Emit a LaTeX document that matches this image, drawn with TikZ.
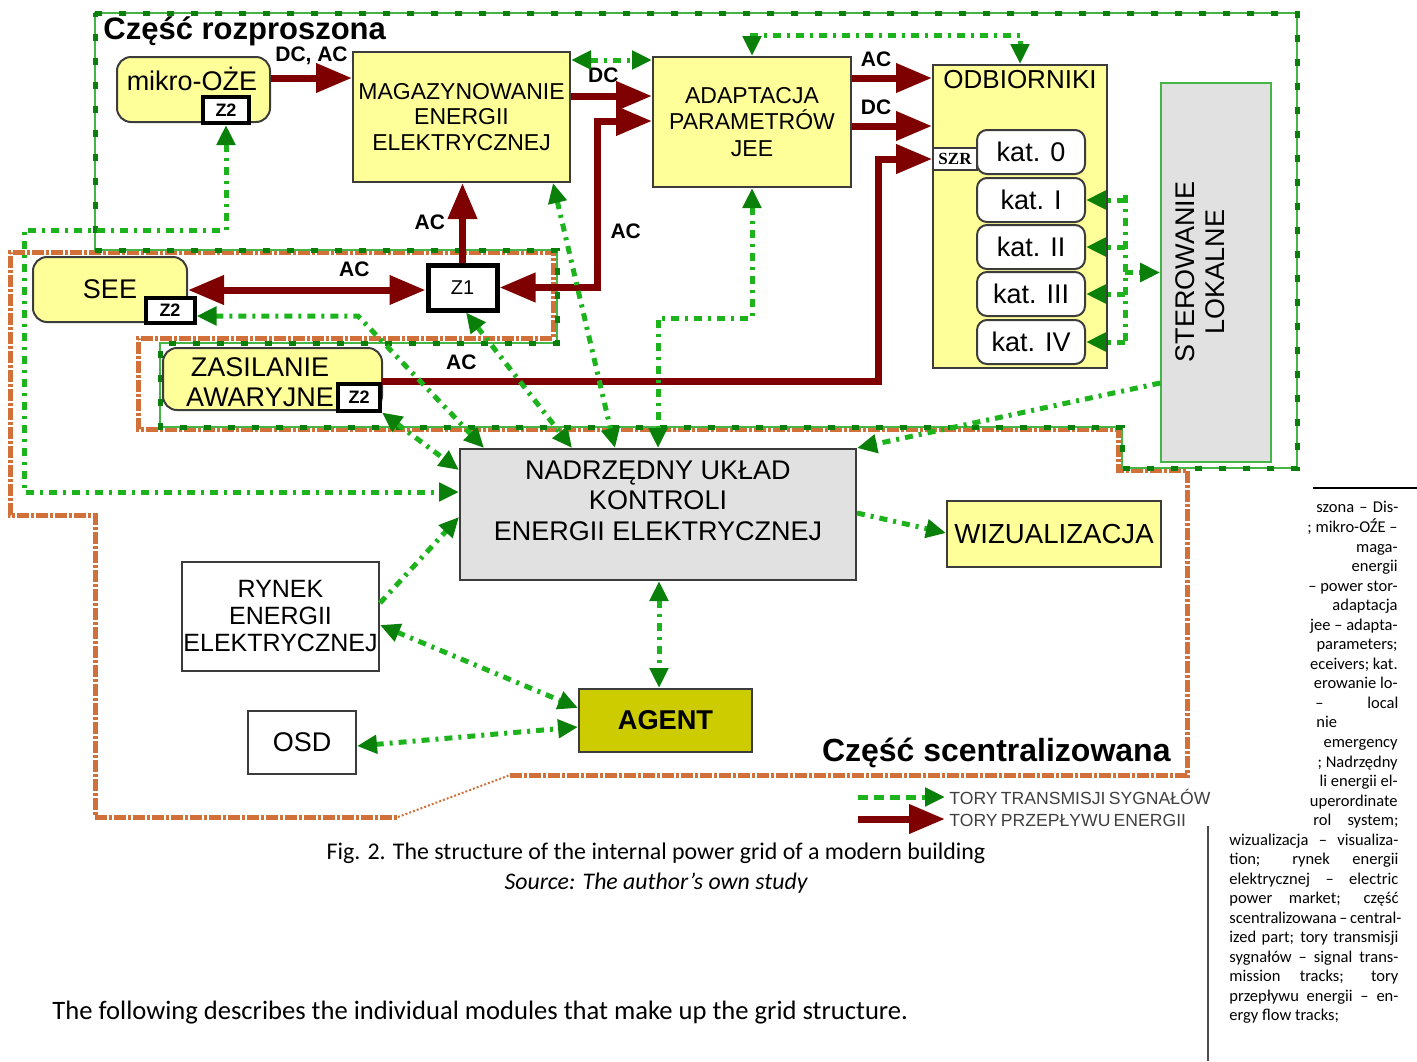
\documentclass[tikz,border=0pt]{standalone}
\usepackage{fontspec}
\setmainfont{Liberation Sans}
\newfontfamily\calibri{Carlito}
\newfontfamily\szeryf{Liberation Serif}
\usetikzlibrary{arrows.meta}

\definecolor{kZolty}{HTML}{FFFF99}
\definecolor{kSzary}{HTML}{E1E1E1}
\definecolor{kOliwka}{HTML}{CCCC00}
\definecolor{kBordo}{HTML}{7F0000}
\definecolor{kZielony}{HTML}{1DB31D}
\definecolor{kZielonyC}{HTML}{0A800A}
\definecolor{kLinia}{HTML}{45B545}
\definecolor{kPomarancz}{HTML}{D2703A}
\definecolor{kRamka}{HTML}{3C3C3C}

\begin{document}
\begin{tikzpicture}[x=0.5pt,y=-0.5pt]
	\tikzstyle{blok}=[draw=kRamka,line width=1pt,inner sep=0pt,align=center]
	\tikzstyle{zolty}=[blok,fill=kZolty]
	\tikzstyle{zaokr}=[zolty,rounded corners=7pt]
	\tikzstyle{kat}=[blok,fill=white,rounded corners=5pt,minimum width=54pt,minimum height=22pt,font=\fontsize{13.5}{15}\selectfont]
	\tikzstyle{znacznik}=[draw=black,line width=2pt,fill=white,inner sep=0pt,font=\bfseries\fontsize{9}{10}\selectfont]
	\tikzstyle{etykieta}=[font=\bfseries\fontsize{10.5}{12}\selectfont,inner sep=1pt]
	\tikzstyle{energia}=[draw=kBordo,line width=3.5pt,>={Triangle[length=18pt,width=14pt]}]
	\tikzstyle{sygnal}=[draw=kZielony,line width=2.5pt,dash pattern=on 4pt off 3pt on 1.5pt off 3pt,>={Triangle[length=10pt,width=9pt,color=kZielonyC]}]
	\tikzstyle{granicaR}=[draw=kLinia,line width=0.8pt,postaction={draw=kZielonyC,line width=2.5pt,dash pattern=on 3.5pt off 8.5pt}]
	\tikzstyle{granicaC}=[draw=kPomarancz,line width=2.5pt,dash pattern=on 6pt off 1pt on 1.5pt off 1pt]
	\tikzstyle{kolumna}=[font=\calibri\fontsize{8.25}{9.75}\selectfont,inner sep=0pt]

	\def\SzerKol{84.5pt}
	\def\KrokKol{19.5}

	\useasboundingbox (0,0) rectangle (1417,1061);

	% obszary
	\draw[granicaC] (510,775) -- (1187,775) -- (1187,470) -- (1118,470) -- (1118,429) -- (138,429) -- (138,338) -- (553,338) -- (553,252) -- (10,252) -- (10,515) -- (95,515) -- (95,817) -- (398,817);
	\draw[kPomarancz,line width=1pt,densely dotted] (398,817) -- (510,775);
	\draw[granicaR] (95,13) -- (1297,13) -- (1297,468) -- (1122,468) -- (1122,427) -- (160,427) -- (160,343) -- (557,343) -- (557,250) -- (95,250) -- cycle;

	\node[font=\bfseries\fontsize{15.5}{17}\selectfont,anchor=west,inner sep=0pt] (TR) at (103,31) {Część rozproszona};
	\node[font=\bfseries\fontsize{16}{18}\selectfont,anchor=east,inner sep=0pt] (TC) at (1171,753) {Część scentralizowana};

	% bloki
	\node[zaokr,minimum width=76.5pt,minimum height=32.5pt] (MIK) at (193.5,89.5) {};
	\node[font=\fontsize{13.5}{15}\selectfont] (MIKt) at (192,79) {mikro-OŻE};
	\node[znacznik,minimum width=23pt,minimum height=13pt] (MIKz) at (226,110) {Z2};
	\node[zolty,minimum width=108.5pt,minimum height=65pt,font=\fontsize{11.5}{12.75}\selectfont] (MAG) at (461.5,117) {MAGAZYNOWANIE\\ENERGII\\ELEKTRYCZNEJ};
	\node[zolty,minimum width=99pt,minimum height=65pt,font=\fontsize{11.5}{13.25}\selectfont] (ADA) at (752,122) {ADAPTACJA\\PARAMETRÓW\\JEE};
	\node[zolty,minimum width=87pt,minimum height=151.5pt] (ODB) at (1020,216.5) {};
	\node[font=\fontsize{13}{15}\selectfont] (ODBt) at (1020,80) {ODBIORNIKI};
	\node[kat] (K0) at (1031,152) {kat. 0};
	\node[kat] (K1) at (1031,200) {kat. I};
	\node[kat] (K2) at (1031,247) {kat. II};
	\node[kat] (K3) at (1031,294) {kat. III};
	\node[kat] (K4) at (1031,342) {kat. IV};
	\node[blok,fill=white,line width=0.8pt,minimum width=22pt,minimum height=11pt,font=\szeryf\bfseries\fontsize{8.5}{9}\selectfont] (SZR) at (955,159) {SZR};
	\node[blok,draw=kLinia,line width=0.8pt,fill=kSzary,minimum width=55pt,minimum height=189.5pt] (STE) at (1216,272.5) {};
	\node[rotate=90,align=center,font=\fontsize{13.5}{15}\selectfont] (STEt) at (1200,272) {STEROWANIE\\LOKALNE};
	\node[zaokr,minimum width=77pt,minimum height=32.5pt,font=\fontsize{13.5}{15}\selectfont] (SEE) at (110,289.5) {SEE};
	\node[znacznik,minimum width=24.5pt,minimum height=12.5pt] (SEEz) at (170,310) {Z2};
	\node[blok,draw=black,line width=2.5pt,fill=white,minimum width=34.5pt,minimum height=22.5pt,font=\fontsize{10}{11}\selectfont] (Z1) at (462.5,287.5) {Z1};
	\node[zaokr,minimum width=109.5pt,minimum height=31pt] (ZAS) at (272.5,379) {};
	\node[align=center,font=\fontsize{13.5}{15}\selectfont] (ZASt) at (260,382) {ZASILANIE\\AWARYJNE};
	\node[znacznik,minimum width=21pt,minimum height=13.5pt] (ZASz) at (359,397) {Z2};
	\node[blok,fill=kSzary,minimum width=198pt,minimum height=65.5pt] (NAD) at (658,514.5) {};
	\node[align=center,font=\fontsize{13.5}{15.25}\selectfont] (NADt) at (658,500.5) {NADRZĘDNY UKŁAD\\KONTROLI\\ENERGII ELEKTRYCZNEJ};
	\node[zolty,minimum width=107pt,minimum height=33pt,font=\fontsize{13.8}{15}\selectfont] (WIZ) at (1054,534) {WIZUALIZACJA};
	\node[blok,fill=white,minimum width=98.5pt,minimum height=54.5pt,font=\fontsize{12.5}{13.5}\selectfont] (RYN) at (280.5,616.5) {RYNEK\\ENERGII\\ELEKTRYCZNEJ};
	\node[blok,fill=white,minimum width=54pt,minimum height=31.5pt,font=\fontsize{13.5}{15}\selectfont] (OSD) at (302,742.5) {OSD};
	\node[blok,fill=kOliwka,minimum width=86.5pt,minimum height=31.5pt,font=\bfseries\fontsize{13.6}{15}\selectfont] (AGE) at (665.5,720.5) {AGENT};

	% przeplyw energii
	\draw[energia,->] (MIK.east |- 0,78) -- (MAG.west |- 0,78) node[etykieta,midway,above=4pt] {DC, AC};
	\draw[energia,->] (MAG.east |- 0,96) -- (ADA.west |- 0,96) node[etykieta,pos=0.4,above=4pt] {DC};
	\draw[energia,<->] (Z1.east) -| node[etykieta,pos=0.67,right=4pt] {AC} (597,121) -- (ADA.west |- 0,121);
	\draw[energia,->] (Z1.north) -- (MAG.south -| Z1.north) node[etykieta,midway,left=6pt] {AC};
	\draw[energia,<->] (SEE.east |- 0,290) -- (Z1.west |- 0,290) node[etykieta,pos=0.7,above=4pt] {AC};
	\draw[energia,->] (ADA.east |- 0,78) -- (ODB.west |- 0,78) node[etykieta,pos=0.3,above=3pt] {AC};
	\draw[energia,->] (ADA.east |- 0,126) -- (ODB.west |- 0,126) node[etykieta,pos=0.3,above=3pt] {DC};
	\draw[energia,->] (ZASz.east |- 0,381) -| node[etykieta,pos=0.08,above=3pt] {AC} (878,159) -- (SZR.west);

	% transmisja sygnalow
	\draw[sygnal,<->] (ADA.north) -- ++(0,-21) -| (ODB.north);
	\draw[sygnal,<->] (MAG.east |- 0,60) -- (ADA.west |- 0,60);
	\draw[sygnal,<->] (MIKz.south) |- (24,230) |- (NAD.west |- 0,492);
	\draw[sygnal,<->] (SEEz.east |- 0,316) -- (358,316) -- (NAD.north -| 484,0);
	\draw[sygnal,<->] (Z1.south -| 466,0) -- (NAD.north -| 572,0);
	\draw[sygnal,<->] (MAG.south -| 553,0) -- (NAD.north -| 615,0);
	\draw[sygnal,<->] (ADA.south) -- ++(0,130) -| (NAD.north);
	\draw[sygnal,<->] (ZASz.south east) -- (NAD.west |- 0,470);
	\draw[sygnal,->] (STE.west |- 0,383) -- (NAD.north east);
	\draw[sygnal,->] (NAD.east |- 0,513) -- (WIZ.west |- 0,533);
	\draw[sygnal,->] (RYN.east |- 0,603) -- (NAD.west |- 0,517);
	\draw[sygnal,<->] (RYN.east |- 0,625) -- (AGE.west |- 0,708);
	\draw[sygnal,<->] (OSD.east |- 0,746) -- (AGE.west |- 0,727);
	\draw[sygnal,<->] (NAD.south -| 659,0) -- (AGE.north -| 659,0);
	\coordinate (SZa) at (1125,195);
	\coordinate (SZb) at (1125,345);
	\draw[sygnal] (SZa) -- (SZb);
	\foreach \k in {K1,K2,K3,K4}
		\draw[sygnal,->] (SZa |- \k) -- (\k.east);
	\draw[sygnal,->] (SZa |- STE) -- (STE.west);

	% legenda
	\coordinate (LS) at (858,797);
	\coordinate (LE) at (858,819);
	\node[anchor=west,inner sep=2pt,text=black!75,font=\fontsize{8.8}{10}\selectfont] (LSt) at (945,797) {\makebox[126pt][s]{TORY TRANSMISJI SYGNAŁÓW}};
	\node[anchor=west,inner sep=2pt,text=black!75,font=\fontsize{8.8}{10}\selectfont] (LEt) at (945,820) {\makebox[115pt][s]{TORY PRZEPŁYWU ENERGII}};
	\draw[sygnal,dash pattern=on 5pt off 3pt,->] (LS) -- (LSt.west);
	\draw[energia,->] (LE) -- (LEt.west |- LE);

	% podpis i tekst
	\node[font=\calibri\fontsize{11.95}{14}\selectfont] (POD) at (656,853) {Fig. 2. The structure of the internal power grid of a modern building};
	\node[font=\calibri\itshape\fontsize{11.9}{14}\selectfont] (ZRO) at (656,883) {Source: The author’s own study};
	\node[anchor=base west,inner sep=0pt,font=\calibri\fontsize{13.3}{15}\selectfont] (TXT) at (52,1019) {The following describes the individual modules that make up the grid structure.};

	% kolumna boczna
	\draw[line width=0.6pt] (1313,488) -- (1417,488);
	\draw[line width=1.2pt,black!70] (1208,826) -- (1208,1061);
	\node[kolumna,anchor=base west] (B1) at (1316,512) {\makebox[41pt][s]{szona – Dis-}};
	\foreach \t/\y in {{; mikro-OŹE –}/532,{maga-}/552,{energii}/571,{– power stor-}/591,{adaptacja}/610,{jee – adapta-}/630,{parameters;}/649,{eceivers; kat.}/669,{erowanie lo-}/688,{emergency}/747,{; Nadrzędny}/767,{li energii el-}/786,{uperordinate}/806}
		\node[kolumna,anchor=base east] at (1398,\y) {\t};
	\node[kolumna,anchor=base west] (B2) at (1315,708) {\makebox[41.5pt][s]{– local}};
	\node[kolumna,anchor=base west] (B3) at (1316,727) {nie};
	\node[kolumna,anchor=base west] (B4) at (1313,825) {\makebox[42.5pt][s]{rol system;}};
	\foreach \t [count=\i from 0] in {wizualizacja – visualiza-,tion; rynek energii,elektrycznej – electric,power market; część,scentralizowana – central-,ized part; tory transmisji,sygnałów – signal trans-,mission tracks; tory,przepływu energii – en-}
		\node[kolumna,anchor=base west] at (1229,845+\i*\KrokKol) {\makebox[\SzerKol][s]{\t}};
	\node[kolumna,anchor=base west] (B5) at (1229,1020.5) {ergy flow tracks;};
\end{tikzpicture}
\end{document}
